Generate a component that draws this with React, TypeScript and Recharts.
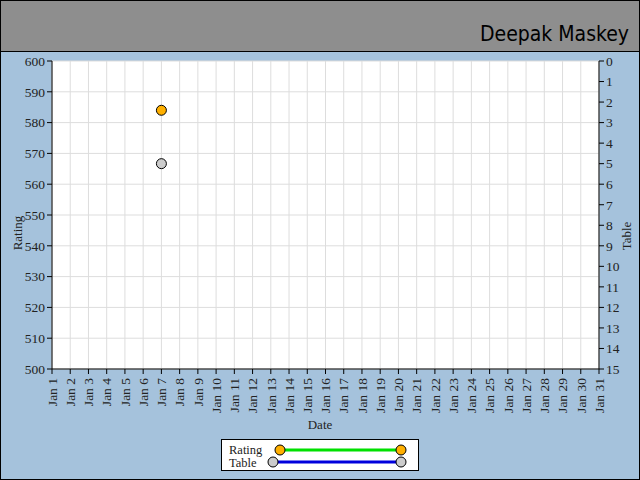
import React from 'react';
import { LineChart, Line, XAxis, YAxis, CartesianGrid } from 'recharts';

const dates = [
  'Jan 1', 'Jan 2', 'Jan 3', 'Jan 4', 'Jan 5', 'Jan 6', 'Jan 7', 'Jan 8', 'Jan 9', 'Jan 10',
  'Jan 11', 'Jan 12', 'Jan 13', 'Jan 14', 'Jan 15', 'Jan 16', 'Jan 17', 'Jan 18', 'Jan 19', 'Jan 20',
  'Jan 21', 'Jan 22', 'Jan 23', 'Jan 24', 'Jan 25', 'Jan 26', 'Jan 27', 'Jan 28', 'Jan 29', 'Jan 30',
  'Jan 31',
];
// only Jan 7 has a value
const rating: (number | null)[] = [
  null, null, null, null, null, null, 584, null, null, null,
  null, null, null, null, null, null, null, null, null, null,
  null, null, null, null, null, null, null, null, null, null,
  null,
];
const table: (number | null)[] = [
  null, null, null, null, null, null, 5, null, null, null,
  null, null, null, null, null, null, null, null, null, null,
  null, null, null, null, null, null, null, null, null, null,
  null,
];
const ratingTicks = [500, 510, 520, 530, 540, 550, 560, 570, 580, 590, 600];
const tableTicks = [0, 1, 2, 3, 4, 5, 6, 7, 8, 9, 10, 11, 12, 13, 14, 15];

const data = dates.map((date, i) => ({ date, rating: rating[i], table: table[i] }));

const FONT = "'Liberation Serif', serif";
const BG = '#a5c2dc';
const RATING_LINE = '#00e000';
const RATING_DOT = '#ffb000';
const TABLE_LINE = '#0000dd';
const TABLE_DOT = '#cccccc';

const tickStyle = { fontSize: 13.5, fill: '#222', fontFamily: FONT };
const labelStyle = { fontSize: 13, fill: '#222', fontFamily: FONT };

const DateTick = (props: any) => {
  const { x, y, payload } = props;
  return (
    <g transform={`translate(${x},${y})`}>
      <text transform="rotate(-90)" x={-2} y={0} dy="0.35em" textAnchor="end" {...tickStyle}>
        {payload.value}
      </text>
    </g>
  );
};

const LegendBox: React.FC = () => (
  <svg
    width={198}
    height={32}
    style={{ position: 'absolute', left: 221, top: 439 }}
  >
    <rect x={0.5} y={0.5} width={197} height={31} fill="#fff" stroke="#000" />
    <text x={8} y={15} {...labelStyle} fontSize={12.5}>Rating</text>
    <text x={8} y={27.5} {...labelStyle} fontSize={12.5}>Table</text>
    <line x1={59} y1={11} x2={180} y2={11} stroke={RATING_LINE} strokeWidth={3} />
    <circle cx={59} cy={11} r={5} fill={RATING_DOT} stroke="#000" />
    <circle cx={180} cy={11} r={5} fill={RATING_DOT} stroke="#000" />
    <line x1={52} y1={23} x2={180} y2={23} stroke={TABLE_LINE} strokeWidth={3} />
    <circle cx={52} cy={23} r={5} fill={TABLE_DOT} stroke="#000" />
    <circle cx={180} cy={23} r={5} fill={TABLE_DOT} stroke="#000" />
  </svg>
);

export default function App() {
  return (
    <div style={{ position: 'absolute', left: 0, top: 0, width: 640, height: 480, background: BG, overflow: 'hidden' }}>
      <svg width={640} height={52} style={{ position: 'absolute', left: 0, top: 0 }}>
        <rect x={0} y={0} width={640} height={51} fill="#8e8e8e" />
        <line x1={0} y1={51.5} x2={640} y2={51.5} stroke="#000" />
        <text
          x={629}
          y={41}
          textAnchor="end"
          fontFamily="'Liberation Sans Narrow', 'DejaVu Sans Condensed', sans-serif"
          fontSize={21}
          fill="#000"
        >
          Deepak Maskey
        </text>
      </svg>
      <LineChart width={640} height={480} data={data} margin={{ top: 61, right: 0, bottom: 0, left: 0 }}>
        <CartesianGrid yAxisId="left" stroke="#dddddd" fill="#fff" />
        <XAxis
          dataKey="date"
          height={111}
          interval={0}
          tick={<DateTick />}
          tickSize={5}
          axisLine={{ stroke: '#000' }}
          tickLine={{ stroke: '#000' }}
          label={{
            content: () => (
              <text x={320} y={429} textAnchor="middle" {...labelStyle}>Date</text>
            ),
          }}
        />
        <YAxis
          yAxisId="left"
          width={52}
          domain={[500, 600]}
          ticks={ratingTicks}
          interval={0}
          tick={tickStyle}
          tickSize={5}
          tickMargin={2}
          axisLine={{ stroke: '#000' }}
          tickLine={{ stroke: '#000' }}
          label={{
            content: () => (
              <text x={22} y={233} transform="rotate(-90 22 233)" textAnchor="middle" {...labelStyle}>Rating</text>
            ),
          }}
        />
        <YAxis
          yAxisId="right"
          orientation="right"
          width={41}
          domain={[0, 15]}
          reversed
          ticks={tableTicks}
          interval={0}
          tick={tickStyle}
          tickSize={5}
          tickMargin={2}
          axisLine={{ stroke: '#000' }}
          tickLine={{ stroke: '#000' }}
          label={{
            content: () => (
              <text x={631} y={236} transform="rotate(-90 631 236)" textAnchor="middle" {...labelStyle}>Table</text>
            ),
          }}
        />
        <Line
          yAxisId="left"
          dataKey="rating"
          stroke={RATING_LINE}
          strokeWidth={3}
          dot={{ r: 5, fill: RATING_DOT, stroke: '#000', strokeWidth: 1 }}
          isAnimationActive={false}
        />
        <Line
          yAxisId="right"
          dataKey="table"
          stroke={TABLE_LINE}
          strokeWidth={3}
          dot={{ r: 5, fill: TABLE_DOT, stroke: '#000', strokeWidth: 1 }}
          isAnimationActive={false}
        />
      </LineChart>
      <LegendBox />
      <div style={{ position: 'absolute', left: 0, top: 0, width: 640, height: 480, boxSizing: 'border-box', border: '1px solid #000', pointerEvents: 'none' }} />
    </div>
  );
}
